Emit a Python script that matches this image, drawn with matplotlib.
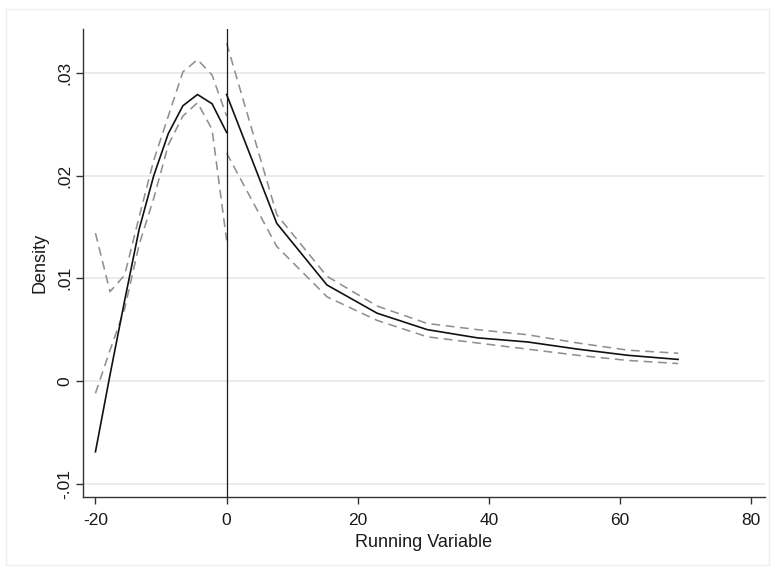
import matplotlib
matplotlib.use("Agg")
import matplotlib.pyplot as plt
from matplotlib.patches import Rectangle
from matplotlib.ticker import FixedLocator

plt.rcParams['font.family'] = ['Liberation Sans', 'DejaVu Sans']

# Left of cutoff
x_left = [-20.0, -17.78, -15.56, -13.33, -11.11, -8.89, -6.67, -4.44, -2.22, 0.0]
fit_left = [-0.0069, 0.0006, 0.0078, 0.0148, 0.0200, 0.0241, 0.0268, 0.0279, 0.0270, 0.0242]
hi_left = [0.0144, 0.0087, 0.0103, 0.0160, 0.0215, 0.0258, 0.0301, 0.0313, 0.0298, 0.0258]
lo_left = [-0.0012, 0.0030, 0.0070, 0.0133, 0.0178, 0.0230, 0.0258, 0.0271, 0.0245, 0.0137]

# Right of cutoff
x_right = [0.0, 7.65, 15.3, 22.95, 30.6, 38.25, 45.9, 53.55, 61.2, 68.85]
fit_right = [0.0279, 0.01535, 0.00935, 0.0066, 0.0050, 0.0042, 0.0038, 0.0031, 0.0025, 0.0021]
hi_right = [0.0329, 0.0162, 0.0102, 0.0073, 0.0056, 0.0050, 0.0045, 0.0037, 0.0030, 0.0027]
lo_right = [0.0222, 0.0131, 0.0082, 0.0059, 0.0043, 0.0037, 0.0031, 0.0025, 0.0020, 0.0017]

x_ticks = [-20, 0, 20, 40, 60, 80]
x_ticklabels = ["-20", "0", "20", "40", "60", "80"]
y_ticks = [-0.01, 0.0, 0.01, 0.02, 0.03]
y_ticklabels = ["-.01", "0", ".01", ".02", ".03"]

fig = plt.figure(figsize=(7.75, 5.7), dpi=100)
fig.patches.append(Rectangle((6 / 775, 1 - 565 / 570), (769 - 6) / 775, (565 - 9) / 570,
                             transform=fig.transFigure, facecolor='none',
                             edgecolor='#eeeeee', lw=1.0, zorder=-10))
ax = fig.add_axes([83 / 775, 1 - 496.7 / 570, (765 - 83) / 775, (496.7 - 29.3) / 570])
ax.patch.set_alpha(0)

dash = (5.5, 3.5)
for xs, ys in [(x_left, hi_left), (x_left, lo_left), (x_right, hi_right), (x_right, lo_right)]:
    ax.plot(xs, ys, color='#909090', lw=1.15, dashes=dash, zorder=3)
ax.plot(x_left, fit_left, color='#111111', lw=1.2, zorder=4)
ax.plot(x_right, fit_right, color='#111111', lw=1.2, zorder=4)
ax.axvline(0, color='#1a1a1a', lw=0.9, zorder=5)

ax.set_xlim(-21.9, 82.1)
ax.set_ylim(-0.01127, 0.03425)
ax.xaxis.set_major_locator(FixedLocator(x_ticks))
ax.set_xticklabels(x_ticklabels)
ax.yaxis.set_major_locator(FixedLocator(y_ticks))
ax.set_yticklabels(y_ticklabels, rotation=90, va='center')

ax.grid(axis='y', color='#e8e8e8', lw=1.2, zorder=0)
ax.set_axisbelow(True)
for s in ['top', 'right']:
    ax.spines[s].set_visible(False)
for s in ['left', 'bottom']:
    ax.spines[s].set_color('#333333')
    ax.spines[s].set_linewidth(1.0)
ax.tick_params(axis='both', direction='out', length=5, width=1.0, color='#333333',
               labelsize=12.5, labelcolor='#1a1a1a')
ax.tick_params(axis='x', pad=7)
ax.tick_params(axis='y', pad=3)

ax.set_xlabel('Running Variable', fontsize=13, color='#1a1a1a', labelpad=4)
ax.set_ylabel('Density', fontsize=13, color='#1a1a1a', labelpad=6)

fig.savefig('out.png', dpi=100)
